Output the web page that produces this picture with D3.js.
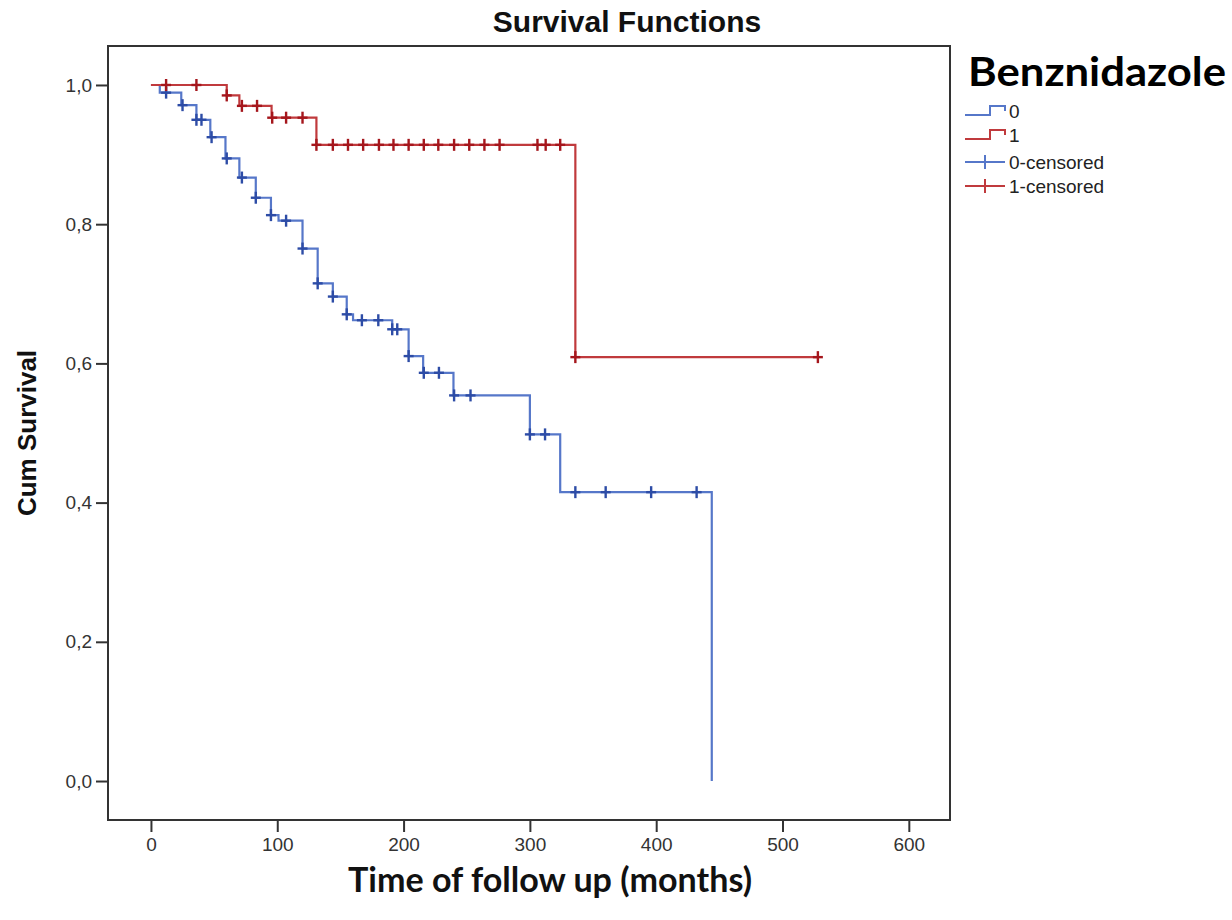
<!DOCTYPE html>
<html>
<head>
<meta charset="utf-8">
<script src="https://cdn.jsdelivr.net/npm/d3@7"></script>
<style>
  body { margin: 0; background: #fff; }
  svg { display: block; }
</style>
</head>
<body>
<div id="chart"></div>
<script>
// group 0 (no benznidazole): event times and survival after each step
const blueTimes = [0, 7, 24, 36, 47, 59, 70, 83, 95, 101, 120, 132, 144, 155, 160, 191, 204, 215.5, 239.5, 300, 324, 444];
const blueSurv  = [1, 0.989, 0.971, 0.950, 0.925, 0.8945, 0.867, 0.838, 0.813, 0.805, 0.765, 0.715, 0.696, 0.6705, 0.662, 0.649, 0.6105, 0.5865, 0.554, 0.498, 0.415, 0];
const blueCensored = [12, 25, 36, 40, 48, 60, 72, 83, 95, 107, 120, 132, 144, 155, 167, 180, 191, 195, 204, 216, 228, 240, 253, 300, 312, 336, 360, 396, 432];

// group 1 (benznidazole)
const redTimes = [0, 60, 70, 95.5, 131, 336];
const redSurv  = [1, 0.985, 0.970, 0.953, 0.914, 0.609];
const redCensored = [12, 36, 60, 72, 84, 96, 107, 120, 131, 144, 156, 168, 180.5, 192, 204, 216, 227.5, 240, 252, 264, 276, 306, 312.5, 324, 336, 528];

const xTicks = [0, 100, 200, 300, 400, 500, 600];
const yTicks = [0, 0.2, 0.4, 0.6, 0.8, 1.0];
const legendLabels = ['0', '1', '0-censored', '1-censored'];

const W = 1232, H = 920;
const plot = {left: 108, top: 46, right: 950, bottom: 820};

const svg = d3.select('#chart').append('svg')
    .attr('width', W)
    .attr('height', H);

const x = d3.scaleLinear().domain([-34, 632.6]).range([plot.left, plot.right]);
const y = d3.scaleLinear().domain([-0.056, 1.056]).range([plot.bottom, plot.top]);

const blueLine = '#5677c9', blueMark = '#2d4ca6';
const redLine = '#c03a3d', redMark = '#a5161c';

// title
svg.append('text')
    .attr('x', 627).attr('y', 32)
    .attr('text-anchor', 'middle')
    .style('font-family', 'Liberation Sans, Arial, sans-serif')
    .style('font-weight', 'bold')
    .style('font-size', '30px')
    .style('fill', '#111')
    .text('Survival Functions');

// axes
const fmtComma = d => d3.format('.1f')(d).replace('.', ',');

const yAxis = svg.append('g')
    .attr('transform', `translate(${plot.left},0)`)
    .call(d3.axisLeft(y).tickValues(yTicks).tickFormat(fmtComma).tickSize(12).tickPadding(4));

const xAxis = svg.append('g')
    .attr('transform', `translate(0,${plot.bottom})`)
    .call(d3.axisBottom(x).tickValues(xTicks).tickSize(12).tickPadding(6));

[xAxis, yAxis].forEach(a => {
    a.select('.domain').remove();
    a.selectAll('line').attr('stroke', '#333').attr('stroke-width', 2);
    a.selectAll('text')
        .style('font-family', 'Liberation Sans, Arial, sans-serif')
        .style('font-size', '19px')
        .style('fill', '#333');
});

// frame
svg.append('rect')
    .attr('x', plot.left).attr('y', plot.top)
    .attr('width', plot.right - plot.left)
    .attr('height', plot.bottom - plot.top)
    .attr('fill', 'none')
    .attr('stroke', '#333')
    .attr('stroke-width', 2);

// axis titles
svg.append('text')
    .attr('transform', 'translate(36,433) rotate(-90)')
    .attr('text-anchor', 'middle')
    .style('font-family', 'Liberation Sans, Arial, sans-serif')
    .style('font-weight', 'bold')
    .style('font-size', '26px')
    .style('fill', '#111')
    .text('Cum Survival');

svg.append('text')
    .attr('x', 348).attr('y', 892)
    .attr('textLength', 404)
    .attr('lengthAdjust', 'spacingAndGlyphs')
    .style('font-family', 'Lato, "Open Sans", sans-serif')
    .style('font-weight', 'bold')
    .style('font-size', '34px')
    .style('fill', '#111')
    .text('Time of follow up (months)');

// survival curves
function survAt(times, surv, t) {
    let s = surv[0];
    times.forEach((tt, i) => { if (tt <= t) s = surv[i]; });
    return s;
}

const step = d3.line()
    .x(d => x(d[0]))
    .y(d => y(d[1]))
    .curve(d3.curveStepAfter);

function drawGroup(times, surv, censored, lineColor, markColor) {
    const pts = times.map((t, i) => [t, surv[i]]);
    const lastC = d3.max(censored);
    if (lastC > times[times.length - 1]) pts.push([lastC, surv[surv.length - 1]]);

    svg.append('path')
        .datum(pts)
        .attr('fill', 'none')
        .attr('stroke', lineColor)
        .attr('stroke-width', 2.2)
        .attr('d', step);

    const marks = svg.append('g').selectAll('g')
        .data(censored)
        .enter().append('g')
        .attr('transform', t => `translate(${x(t)},${y(survAt(times, surv, t))})`);

    marks.append('line')
        .attr('x1', -5).attr('x2', 5).attr('y1', 0).attr('y2', 0)
        .attr('stroke', markColor).attr('stroke-width', 2.4);
    marks.append('line')
        .attr('x1', 0).attr('x2', 0).attr('y1', -6).attr('y2', 6)
        .attr('stroke', markColor).attr('stroke-width', 2.4);
}

drawGroup(blueTimes, blueSurv, blueCensored, blueLine, blueMark);
drawGroup(redTimes, redSurv, redCensored, redLine, redMark);

// legend
svg.append('text')
    .attr('x', 968).attr('y', 86)
    .attr('textLength', 258)
    .attr('lengthAdjust', 'spacingAndGlyphs')
    .style('font-family', 'Lato, "Open Sans", sans-serif')
    .style('font-weight', 'bold')
    .style('font-size', '40px')
    .style('fill', '#000')
    .text('Benznidazole');

const legendRows = [111, 135, 162, 186];
const legendColors = [blueLine, redLine, blueLine, redLine];

legendLabels.forEach((lab, i) => {
    const ly = legendRows[i];
    const g = svg.append('g');
    if (i < 2) {
        g.append('path')
            .attr('d', `M965,${ly + 4}H990V${ly - 5}H1005V${ly}`)
            .attr('fill', 'none')
            .attr('stroke', legendColors[i])
            .attr('stroke-width', 2);
    } else {
        g.append('path')
            .attr('d', `M965,${ly}H1005M985,${ly - 7}V${ly + 7}`)
            .attr('fill', 'none')
            .attr('stroke', legendColors[i])
            .attr('stroke-width', 2);
    }
    g.append('text')
        .attr('x', 1009).attr('y', ly + 7)
        .style('font-family', 'Liberation Sans, Arial, sans-serif')
        .style('font-size', '19px')
        .style('fill', '#222')
        .text(lab);
});
</script>
</body>
</html>
